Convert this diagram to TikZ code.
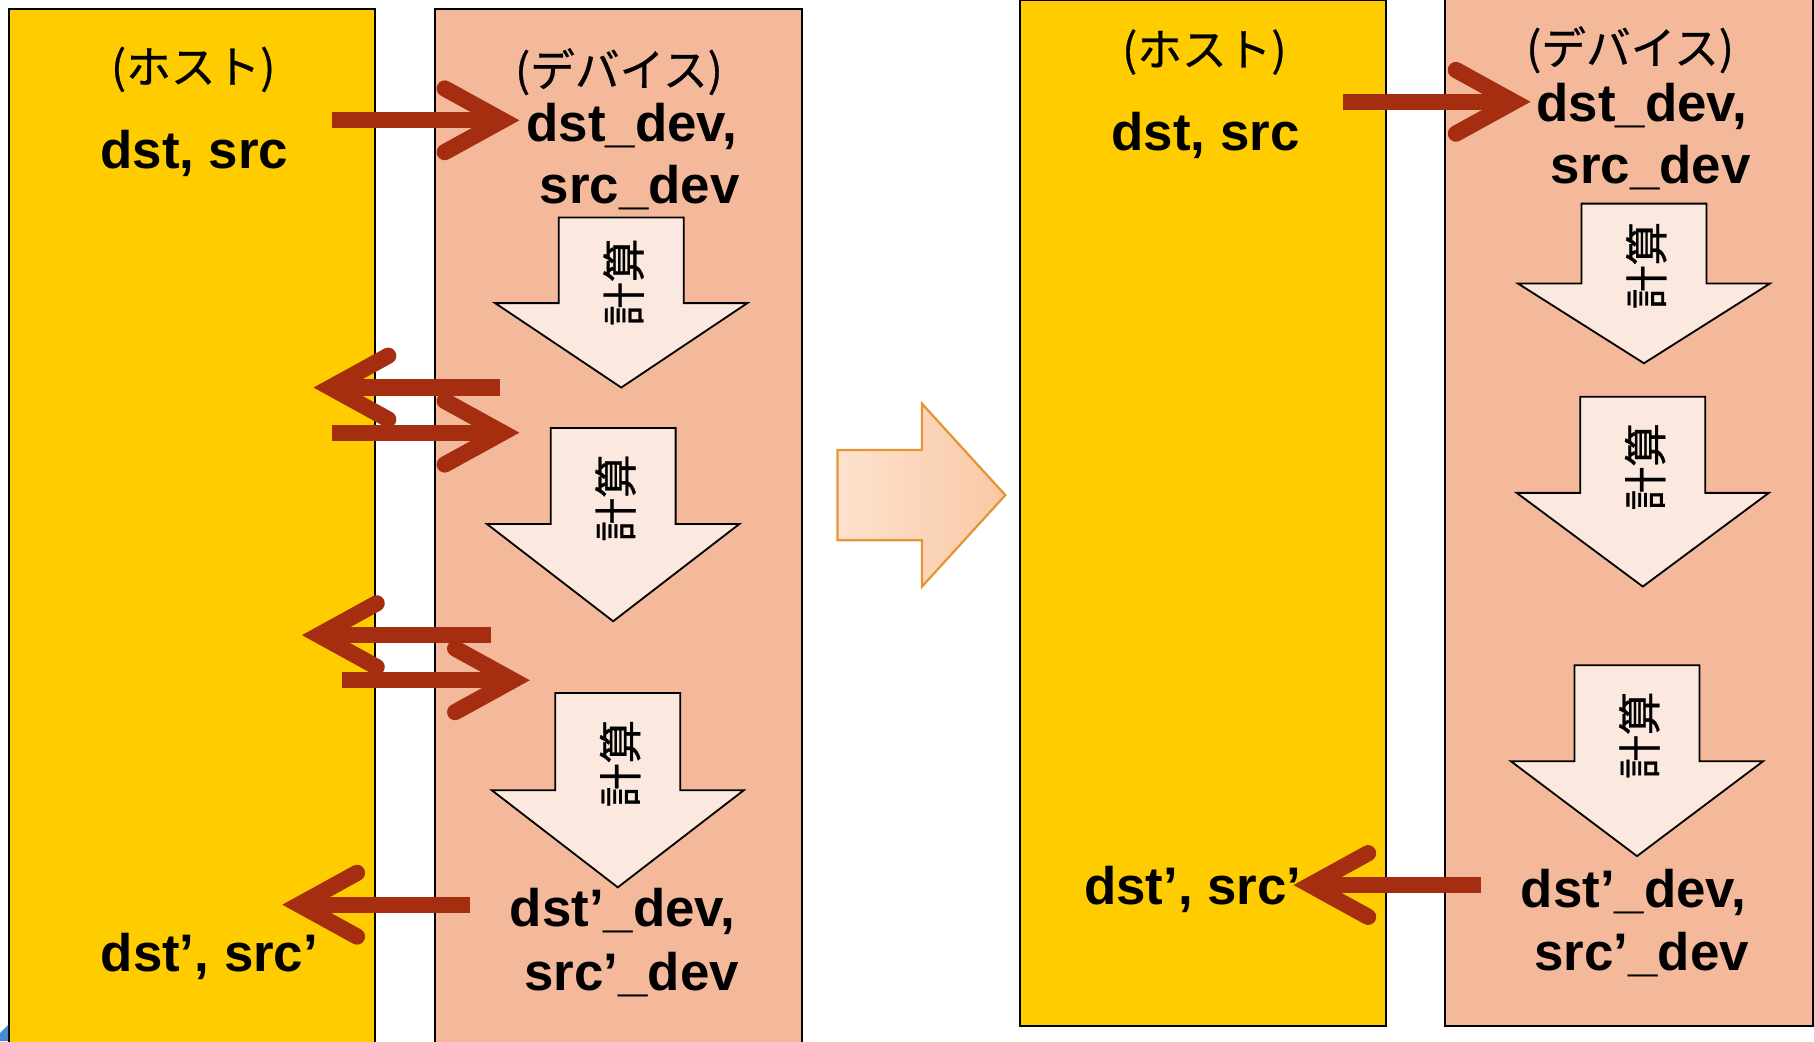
\documentclass[tikz,border=0pt]{standalone}
\usepackage{fontspec}
\setmainfont{Liberation Sans}
\newfontfamily\jpfont[FakeBold=0.6]{Noto Sans CJK JP}
\usetikzlibrary{arrows.meta,calc}

\definecolor{hostgold}{RGB}{255,204,0}
\definecolor{devsalmon}{RGB}{244,185,155}
\definecolor{xferred}{RGB}{166,46,16}
\definecolor{calcfill}{RGB}{251,233,223}
\definecolor{bigedge}{RGB}{228,150,50}
\definecolor{bigleft}{RGB}{253,226,206}
\definecolor{bigright}{RGB}{250,200,165}
\definecolor{cornerblue}{RGB}{70,140,210}

% one "compute" block arrow: name, centre x, top, shoulder, tip
\newcommand\calcstep[5]{%
  \draw[calcshape] (#2-54,#3) -- (#2+54,#3) -- (#2+54,#4) -- (#2+109,#4)
    -- (#2,#5) -- (#2-109,#4) -- (#2-54,#4) -- cycle;
  \node[calclabel] (#1) at (#2+2,{(#3+#4)/2+19}) {計算};
}

\begin{document}
\begin{tikzpicture}[x=0.02cm,y=-0.02cm,
  hostbox/.style={draw=black, line width=0.9pt, fill=hostgold},
  devbox/.style={draw=black, line width=0.9pt, fill=devsalmon},
  vartext/.style={font=\fontsize{26}{31}\selectfont\bfseries, inner sep=0pt, anchor=base},
  sidelabel/.style={font=\jpfont\fontsize{22}{26}\selectfont, inner sep=0pt},
  calcshape/.style={draw=black, line width=0.9pt, fill=calcfill},
  calclabel/.style={font=\jpfont\fontsize{21.5}{24}\selectfont, rotate=90, inner sep=0pt},
  xfer/.style={draw=xferred, line width=8pt,
    -{Straight Barb[length=1cm,width=1.1cm,line cap=round,line join=miter]}},
]
\useasboundingbox (0,0) rectangle (1568,900);
\clip (0,0) rectangle (1568,900);

% ---------- before: host and device columns ----------
\draw[hostbox] (8,8) rectangle (324,910);
\draw[devbox] (376,8) rectangle (693,910);
\fill[cornerblue] (0,893) -- (7,886) -- (7,900) -- (0,900) -- cycle;

\node[sidelabel] (lhostlab) at (167,60) {(ホスト)};
\node[sidelabel] (ldevlab) at (535,62) {(デバイス)};

\node[vartext] (lhost) at (168,146) {dst, src};
\node[vartext] (ldev1) at (546,122) {dst\_dev,};
\node[vartext] (ldev2) at (553,176) {src\_dev};

\calcstep{lcalc1}{537}{188}{262}{335}
\calcstep{lcalc2}{530}{370}{453}{537}
\calcstep{lcalc3}{534}{599}{683}{767}

\node[vartext] (ldev3) at (538,801) {dst’\_dev,};
\node[vartext] (ldev4) at (546,856) {src’\_dev};
\node[vartext] (lhost2) at (181,840) {dst’, src’};

% transfers between host and device
\coordinate (a1s) at (287,104);  \coordinate (a1e) at (449,104);
\coordinate (a2s) at (432,335);  \coordinate (a2e) at (271,335);
\coordinate (a3s) at (287,374);  \coordinate (a3e) at (449,374);
\coordinate (a4s) at (424,549);  \coordinate (a4e) at (261,549);
\coordinate (a5s) at (296,588);  \coordinate (a5e) at (458,588);
\coordinate (a6s) at (406,782);  \coordinate (a6e) at (244,782);
\foreach \k in {1,...,6} \draw[xfer] (a\k s) -- (a\k e);

% ---------- big transition arrow ----------
\draw[draw=bigedge, line width=1.1pt, left color=bigleft, right color=bigright]
  (724,389) -- (797,389) -- (797,349) -- (869,428) -- (797,507)
  -- (797,467) -- (724,467) -- cycle;

% ---------- after: host and device columns ----------
\draw[hostbox] (882,0.5) rectangle (1198,887);
\draw[devbox] (1249,-5) rectangle (1567,887);

\node[sidelabel] (rhostlab) at (1041,45) {(ホスト)};
\node[sidelabel] (rdevlab) at (1409,43) {(デバイス)};

\node[vartext] (rhost) at (1042,130) {dst, src};
\node[vartext] (rdev1) at (1419,105) {dst\_dev,};
\node[vartext] (rdev2) at (1427,159) {src\_dev};

\calcstep{rcalc1}{1421}{176}{245}{314}
\calcstep{rcalc2}{1420}{343}{426}{507}
\calcstep{rcalc3}{1415}{575}{658}{740}

\node[vartext] (rdev3) at (1412,784) {dst’\_dev,};
\node[vartext] (rdev4) at (1419,839) {src’\_dev};
\node[vartext] (rhost2) at (1031,782) {dst’, src’};

\coordinate (b1s) at (1161,88);  \coordinate (b1e) at (1323,88);
\coordinate (b2s) at (1280,765); \coordinate (b2e) at (1118,765);
\draw[xfer] (b1s) -- (b1e);
\draw[xfer] (b2s) -- (b2e);
\end{tikzpicture}
\end{document}
